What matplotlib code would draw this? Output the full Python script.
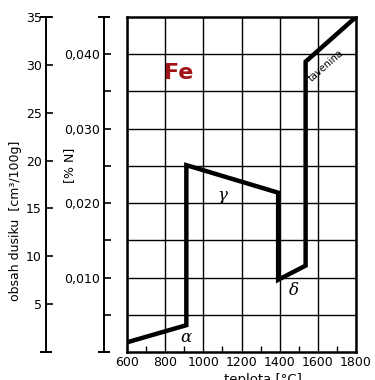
import matplotlib
matplotlib.use("Agg")
import matplotlib.pyplot as plt
from matplotlib.ticker import FixedLocator

# solubility of nitrogen in iron
temp = [600, 911, 911, 1392, 1392, 1536, 1536, 1800]
n_pct = [0.0013, 0.0036, 0.0251, 0.0214, 0.0097, 0.0116, 0.0390, 0.0450]

x_major = [600, 800, 1000, 1200, 1400, 1600, 1800]
x_minor = [700, 900, 1100, 1300, 1500, 1700]
pct_major = [0.010, 0.020, 0.030, 0.040]
pct_labels = ["0,010", "0,020", "0,030", "0,040"]
pct_minor = [0.005, 0.015, 0.025, 0.035]
cm3_ticks = [5, 10, 15, 20, 25, 30, 35]

W, H = 375, 380
fig = plt.figure(figsize=(W / 100, H / 100), dpi=100)
plt.rcParams["font.family"] = ["DejaVu Sans"]

L, R, T, B = 127, 356, 17, 352
ax = fig.add_axes([L / W, 1 - B / H, (R - L) / W, (B - T) / H])
ax.plot(temp, n_pct, color="black", lw=3.2, solid_joinstyle="miter")
ax.set_xlim(600, 1800)
ax.set_ylim(0, 0.045)
ax.set_xticks(x_major)
ax.set_xticklabels([str(v) for v in x_major], fontsize=9)
ax.xaxis.set_minor_locator(FixedLocator(x_minor))
ax.set_yticks([0.005 * i for i in range(1, 9)])
ax.set_yticklabels([])
ax.tick_params(axis="y", length=0)
ax.tick_params(axis="x", which="major", length=0, pad=3)
ax.tick_params(axis="x", which="minor", direction="in", length=4, width=1)
ax.grid(True, which="major", color="black", lw=1.0)
for s in ax.spines.values():
    s.set_linewidth(1.8)

ax.text(873, 0.0375, "Fe", color="#a01418", fontsize=16, fontweight="bold",
        ha="center", va="center")
greek = dict(family="DejaVu Serif", style="italic", fontsize=12, ha="center", va="center")
ax.text(909, 0.0019, "α", **greek)
ax.text(1098, 0.0210, "γ", **greek)
ax.text(1475, 0.0082, "δ", **greek)
ax.text(1645, 0.0384, "tavenina", fontsize=7, rotation=41, ha="center", va="center")


def side_axis(xpix, ymax, major, labels, minor):
    a = fig.add_axes([xpix / W, 1 - B / H, 0.0001, (B - T) / H])
    a.patch.set_visible(False)
    for k in ("top", "right", "bottom"):
        a.spines[k].set_visible(False)
    a.spines["left"].set_linewidth(1.4)
    a.set_xticks([])
    a.set_ylim(0, ymax)
    a.set_yticks(major)
    a.set_yticklabels(labels, fontsize=9)
    a.tick_params(axis="y", direction="in", length=5, width=1.2, pad=3)
    if minor:
        a.yaxis.set_minor_locator(FixedLocator(minor))
        a.tick_params(axis="y", which="minor", direction="in", length=5, width=1.2)
    # end caps
    for yv in (0, ymax):
        a.plot([0.5], [yv], marker="_", ms=9, mew=1.4, color="black", clip_on=False)
    return a


side_axis(46, 35, cm3_ticks, [str(v) for v in cm3_ticks], None)
side_axis(104, 0.045, pct_major, pct_labels, pct_minor)

fig.text(16 / W, 1 - 221 / H, "obsah dusiku  [cm³/100g]", rotation=90,
         fontsize=9, ha="center", va="center")
fig.text(70 / W, 1 - 165 / H, "[% N]", rotation=90, fontsize=9,
         ha="center", va="center")
fig.text(263 / W, 1 - 373 / H, "teplota [°C]", fontsize=9.5, ha="center", va="top")

fig.savefig("out.png", dpi=100)
